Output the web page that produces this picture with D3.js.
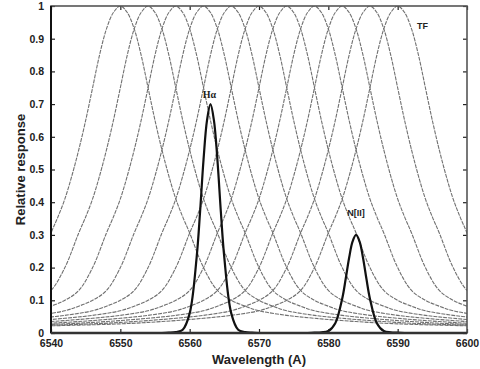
<!DOCTYPE html>
<html>
<head>
<meta charset="utf-8">
<script src="https://cdn.jsdelivr.net/npm/d3@7"></script>
<style>
  body { margin: 0; background: #fff; }
  svg { display: block; }
  text { font-family: "Liberation Sans", Arial, sans-serif; fill: #222; }
</style>
</head>
<body>
<script>
// Tunable filter (TF) peak positions, in Angstrom
const filterPeaks = [6550, 6554, 6558, 6562, 6566, 6570, 6574, 6578, 6582, 6586, 6590];

// Filter transmission profile: offset from peak (A) -> response
const profileOffset = [0, 1, 2, 3, 4, 5, 6, 7, 8, 9, 10, 12, 14, 16, 18, 20, 24, 28, 34, 40, 50, 60];
const profileValue  = [1, 0.98, 0.93, 0.85, 0.75, 0.65, 0.56, 0.48, 0.41, 0.355, 0.306, 0.2, 0.13, 0.1, 0.082, 0.068, 0.054, 0.045, 0.035, 0.028, 0.022, 0.018];

// Emission lines
const haWave  = [6556, 6557, 6558, 6559, 6560, 6561, 6561.5, 6562, 6562.5, 6563, 6563.5, 6564, 6564.5, 6565, 6566, 6567, 6568, 6569, 6570];
const haValue = [0, 0.001, 0.003, 0.01, 0.06, 0.23, 0.37, 0.53, 0.65, 0.70, 0.65, 0.53, 0.37, 0.23, 0.06, 0.01, 0.003, 0.001, 0];
const n2Wave  = [6577, 6578, 6579, 6580, 6581, 6582, 6582.5, 6583, 6583.5, 6584, 6584.5, 6585, 6585.5, 6586, 6587, 6588, 6589, 6590, 6591];
const n2Value = [0, 0.001, 0.002, 0.006, 0.03, 0.105, 0.165, 0.23, 0.28, 0.30, 0.28, 0.23, 0.165, 0.105, 0.03, 0.006, 0.002, 0.001, 0];

const xTicks = [6540, 6550, 6560, 6570, 6580, 6590, 6600];
const yTicks = [0, 0.1, 0.2, 0.3, 0.4, 0.5, 0.6, 0.7, 0.8, 0.9, 1];

const margin = { top: 6, right: 13, bottom: 36, left: 51 };
const W = 480, H = 369;
const width = W - margin.left - margin.right;
const height = H - margin.top - margin.bottom;

const svg = d3.select("body").append("svg")
    .attr("width", W)
    .attr("height", H);

const g = svg.append("g")
    .attr("transform", `translate(${margin.left},${margin.top})`);

const x = d3.scaleLinear().domain([6540, 6600]).range([0, width]);
const y = d3.scaleLinear().domain([0, 1]).range([height, 0]);

g.append("clipPath").attr("id", "clip")
  .append("rect").attr("width", width).attr("height", height);

const line = d3.line()
    .x(d => x(d[0]))
    .y(d => y(d[1]))
    .curve(d3.curveCatmullRom);

// filter curves, built from the shared profile shifted to each peak
const plot = g.append("g").attr("clip-path", "url(#clip)");
filterPeaks.forEach(p => {
  const pts = [];
  for (let i = profileOffset.length - 1; i > 0; i--) pts.push([p - profileOffset[i], profileValue[i]]);
  for (let i = 0; i < profileOffset.length; i++) pts.push([p + profileOffset[i], profileValue[i]]);
  plot.append("path")
      .attr("d", line(pts))
      .attr("fill", "none")
      .attr("stroke", "#707070")
      .attr("stroke-width", 1.1)
      .attr("stroke-dasharray", "4,1");
});

// emission lines
[[haWave, haValue], [n2Wave, n2Value]].forEach(([w, v]) => {
  plot.append("path")
      .attr("d", line(w.map((d, i) => [d, v[i]])))
      .attr("fill", "none")
      .attr("stroke", "#111")
      .attr("stroke-width", 2.2);
});

// axes (ticks inward on all four sides)
const axisStyle = sel => {
  sel.select(".domain").remove();
  sel.selectAll("line").attr("stroke", "#222").attr("stroke-width", 1.2);
  sel.selectAll("text")
      .style("font-size", "10.5px")
      .style("font-weight", "bold");
};

g.append("g")
    .attr("transform", `translate(0,${height})`)
    .call(d3.axisBottom(x).tickValues(xTicks).tickSizeInner(-4).tickSizeOuter(0).tickPadding(7).tickFormat(d3.format("d")))
    .call(axisStyle);

g.append("g")
    .call(d3.axisTop(x).tickValues(xTicks).tickSizeInner(-4).tickSizeOuter(0).tickFormat(""))
    .call(axisStyle);

g.append("g")
    .call(d3.axisLeft(y).tickValues(yTicks).tickSizeInner(-4).tickSizeOuter(0).tickPadding(7).tickFormat(d => d === 0 || d === 1 ? d : d3.format(".1f")(d)))
    .call(axisStyle);

g.append("g")
    .attr("transform", `translate(${width},0)`)
    .call(d3.axisRight(y).tickValues(yTicks).tickSizeInner(-4).tickSizeOuter(0).tickFormat(""))
    .call(axisStyle);

// frame
g.append("rect")
    .attr("width", width)
    .attr("height", height)
    .attr("fill", "none")
    .attr("stroke", "#555")
    .attr("stroke-width", 1.6);
g.append("line").attr("x1", 0).attr("x2", 0).attr("y1", 0).attr("y2", height)
    .attr("stroke", "#111").attr("stroke-width", 2);
g.append("line").attr("x1", 0).attr("x2", width).attr("y1", height).attr("y2", height)
    .attr("stroke", "#333").attr("stroke-width", 2.5);

// labels
g.append("text")
    .attr("x", x(6563) - 1)
    .attr("y", y(0.72))
    .attr("text-anchor", "middle")
    .style("font-size", "10px")
    .style("font-weight", "bold")
    .style("font-family", "'Liberation Serif', serif")
    .text("Hα");

g.append("text")
    .attr("x", x(6584))
    .attr("y", y(0.358))
    .attr("text-anchor", "middle")
    .style("font-size", "9px")
    .style("font-weight", "bold")
    .text("N[II]");

g.append("text")
    .attr("x", x(6592.8))
    .attr("y", y(0.93))
    .style("font-size", "9px")
    .style("font-weight", "bold")
    .text("TF");

svg.append("text")
    .attr("x", margin.left + width / 2)
    .attr("y", 364)
    .attr("text-anchor", "middle")
    .style("font-size", "13px")
    .style("font-weight", "bold")
    .text("Wavelength (A)");

svg.append("text")
    .attr("transform", `translate(25,${margin.top + height / 2}) rotate(-90)`)
    .attr("text-anchor", "middle")
    .style("font-size", "13px")
    .style("font-weight", "bold")
    .text("Relative response");
</script>
</body>
</html>
